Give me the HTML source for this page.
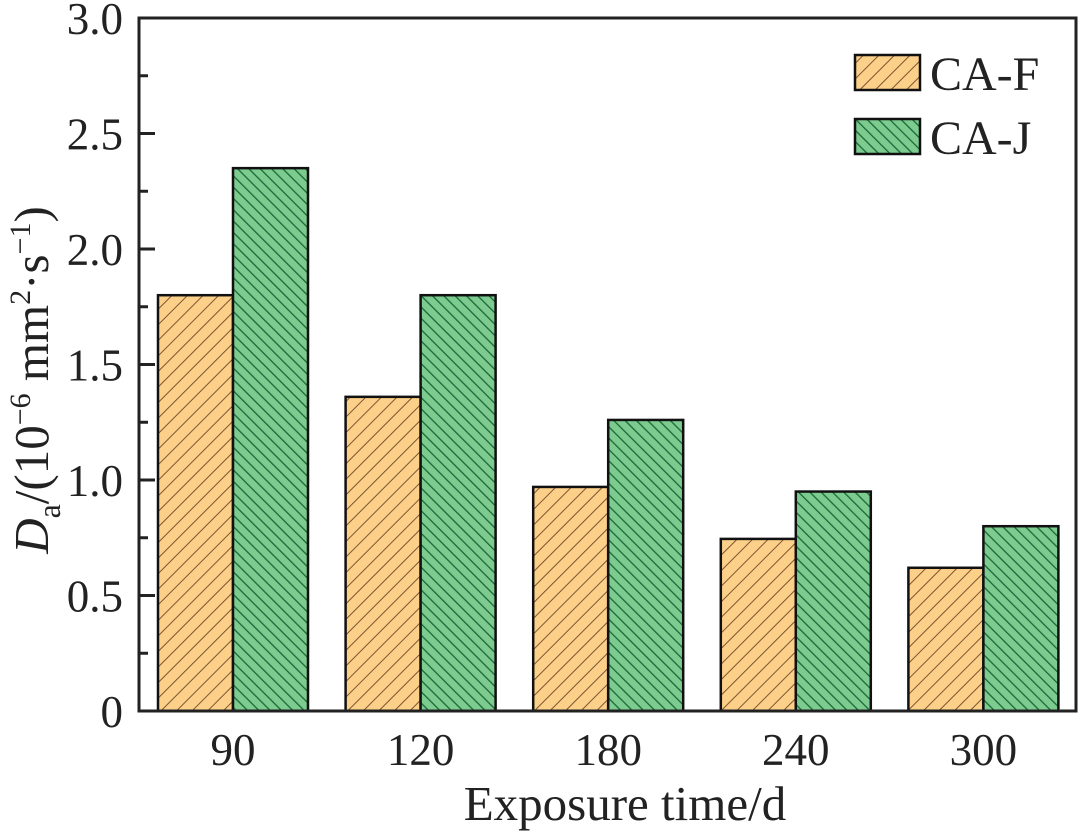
<!DOCTYPE html>
<html><head><meta charset="utf-8"><style>
html,body{margin:0;padding:0;background:#fff;}
svg{display:block;font-family:"Liberation Serif","Times New Roman",serif;}
</style></head><body>
<svg id="chart" width="1080" height="832" viewBox="0 0 1080 832" xmlns="http://www.w3.org/2000/svg">
<defs>
<pattern id="hatchF" patternUnits="userSpaceOnUse" width="11" height="11" patternTransform="rotate(45)">
<rect width="11" height="11" fill="#fdd08a"/>
<line x1="0" y1="0" x2="0" y2="11" stroke="#7a5530" stroke-width="2"/>
</pattern>
<pattern id="hatchJ" patternUnits="userSpaceOnUse" width="8" height="8" patternTransform="rotate(-45)">
<rect width="8" height="8" fill="#7dcb8e"/>
<line x1="0" y1="0" x2="0" y2="8" stroke="#17693a" stroke-width="2.6"/>
</pattern>
</defs>
<g id="plot"></g>
</svg>
<script>
const categories = ["90","120","180","240","300"];
const seriesNames = ["CA-F","CA-J"];
const valuesF = [1.80, 1.36, 0.97, 0.745, 0.62];
const valuesJ = [2.35, 1.80, 1.26, 0.95, 0.80];
const yTicks = [0, 0.5, 1.0, 1.5, 2.0, 2.5, 3.0];
const yTickLabels = ["0","0.5","1.0","1.5","2.0","2.5","3.0"];

const NS = "http://www.w3.org/2000/svg";
const g = document.getElementById("plot");
const L = 139, R = 1076, T = 18, B = 711, yMax = 3.0;
function yPos(v){ return B - v/yMax*(B-T); }
function xCenter(i){ return 233 + i*187.6; }
const barW = 75;
function mk(tag, attrs, parent){ const e = document.createElementNS(NS, tag); for (const k in attrs) e.setAttribute(k, attrs[k]); (parent||g).appendChild(e); return e; }

const series = [valuesF, valuesJ];
const fills = ["url(#hatchF)","url(#hatchJ)"];
series.forEach((vals, s) => {
  vals.forEach((v, i) => {
    const x = xCenter(i) + (s === 0 ? -barW : 0);
    const r = mk("rect", {x: x, y: yPos(v), width: barW, height: B - yPos(v), fill: fills[s], stroke: "#111", "stroke-width": 2.5});
    
    
  });
});

const fr = mk("rect", {x: L, y: T, width: R-L, height: B-T, fill: "none", stroke: "#222", "stroke-width": 3});



for (let k = 0; k <= 12; k++) {
  const v = k*0.25, y = yPos(v), major = k % 2 === 0;
  const t = mk("line", {x1: L, x2: L + (major ? 16 : 9), y1: y, y2: y, stroke: "#222", "stroke-width": 3});
  
  
}
yTicks.forEach((v, i) => {
  const t = mk("text", {x: 123, y: yPos(v) + 16, "text-anchor": "end", "font-size": 45, fill: "#222"});
  t.textContent = yTickLabels[i];
  
  
});
categories.forEach((c, i) => {
  const t = mk("text", {x: xCenter(i), y: 765, "text-anchor": "middle", "font-size": 45, fill: "#222"});
  t.textContent = c;
  
  
});
const xt = mk("text", {x: 625, y: 820, "text-anchor": "middle", "font-size": 49, fill: "#222"});
xt.textContent = "Exposure time/d";



const yt = mk("text", {transform: "translate(48,380) rotate(-90)", "text-anchor": "middle", "font-size": 49, fill: "#222"});


yt.innerHTML = '<tspan font-style="italic">D</tspan><tspan font-size="32" dy="12">a</tspan><tspan dy="-12">/(10</tspan><tspan font-size="30" dy="-18">−6</tspan><tspan dy="18"> mm</tspan><tspan font-size="30" dy="-18">2</tspan><tspan dy="18">·s</tspan><tspan font-size="30" dy="-18">−1</tspan><tspan dy="18">)</tspan>';

seriesNames.forEach((n, s) => {
  const y0 = 55 + s*64;
  const r = mk("rect", {x: 855, y: y0, width: 65, height: 35, fill: fills[s], stroke: "#111", "stroke-width": 2.5});
  
  
  const t = mk("text", {x: 930, y: y0 + 35, "font-size": 48, fill: "#222"});
  t.textContent = n;
  
  
});
</script>
</body></html>
